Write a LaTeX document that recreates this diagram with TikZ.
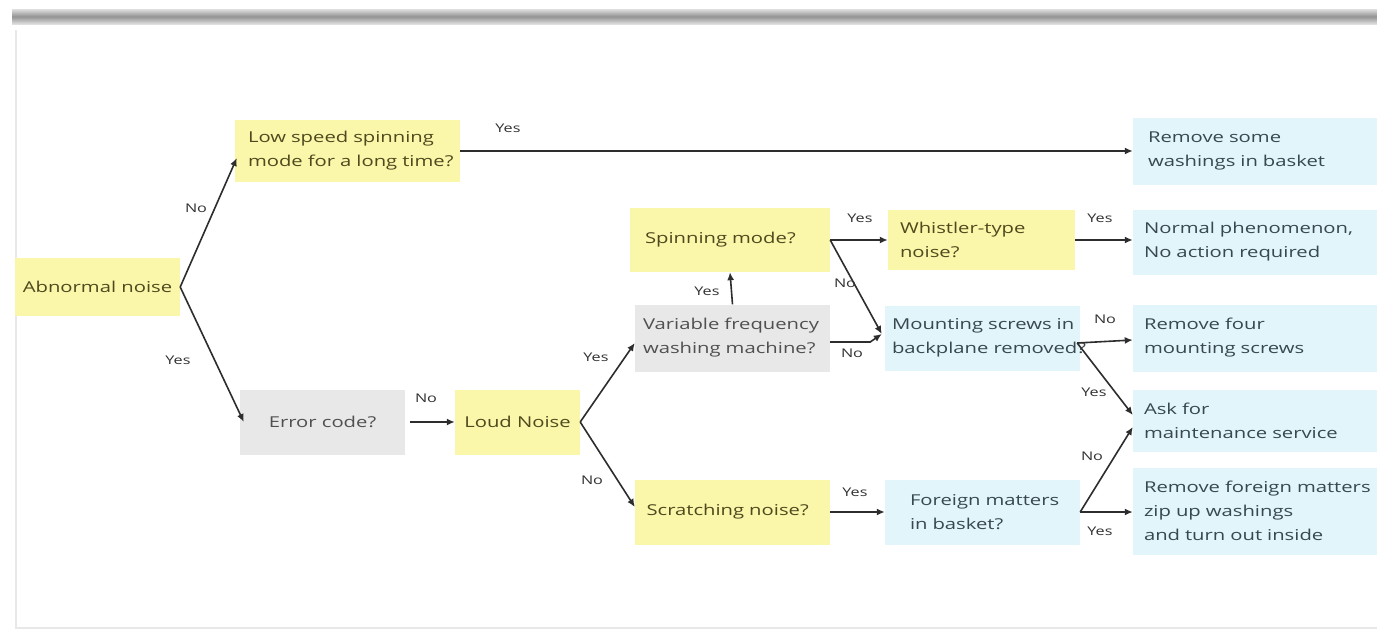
\documentclass[tikz,border=0pt]{standalone}
\usepackage{fontspec}
\setmainfont{Open Sans}[FakeStretch=1.35]
\usetikzlibrary{arrows.meta,calc}
\definecolor{ylw}{RGB}{250,246,170}
\definecolor{blu}{RGB}{226,245,250}
\definecolor{gry}{RGB}{232,232,232}
\definecolor{ytxt}{RGB}{78,74,30}
\definecolor{btxt}{RGB}{55,72,78}
\definecolor{gtxt}{RGB}{80,80,80}
\definecolor{txt}{RGB}{50,50,50}
\definecolor{ln}{RGB}{45,45,45}
\tikzset{
  box/.style={rectangle, inner sep=0pt, font=\fontsize{15}{24}\selectfont},
  ybox/.style={box, fill=ylw, text=ytxt},
  bbox/.style={box, fill=blu, text=btxt},
  gbox/.style={box, fill=gry, text=gtxt},
  arr/.style={draw=ln, line width=1.6pt, -{Latex[length=8pt,width=7pt]}},
  lbl/.style={font=\fontsize{12}{14}\selectfont, text=txt, inner sep=1pt},
}
\begin{document}
\begin{tikzpicture}[x=1pt,y=-1pt]
\useasboundingbox (0,0) rectangle (1377,635);
\fill[white] (0,0) rectangle (1377,635);
% frame
\draw[gray!18, line width=2pt] (16,30) -- (16,628) -- (1380,628);
\shade[top color=gray!25, bottom color=gray!25, middle color=gray!85] (12,9) rectangle (1377,24);
% nodes
\node[ybox, minimum width=165, minimum height=58] (ab) at (97.5,287) {Abnormal noise};
\node[ybox, minimum width=225, minimum height=62, text width=199, align=left] (low) at (347.5,151) {\mbox{Low speed spinning}\\\mbox{mode for a long time?}};
\node[bbox, minimum width=244, minimum height=67, text width=214, align=left] (rsome) at (1255,151) {\mbox{Remove some}\\\mbox{washings in basket}};
\node[ybox, minimum width=200, minimum height=64, text width=170, align=left] (spin) at (730,240) {\mbox{Spinning mode?}};
\node[ybox, minimum width=187, minimum height=60, text width=163, align=left] (whis) at (981.5,240) {\mbox{Whistler-type}\\\mbox{noise?}};
\node[bbox, minimum width=244, minimum height=65, text width=222, align=left] (normal) at (1255,242) {\mbox{Normal phenomenon,}\\\mbox{No action required}};
\node[gbox, minimum width=195, minimum height=67, text width=179, align=left] (var) at (732.5,338) {\mbox{Variable frequency}\\\mbox{washing machine?}};
\node[bbox, minimum width=195, minimum height=65, text width=181, align=left] (mount) at (982.5,338) {\mbox{Mounting screws in}\\\mbox{backplane removed?}};
\node[bbox, minimum width=244, minimum height=67, text width=222, align=left] (rfour) at (1255,338) {\mbox{Remove four}\\\mbox{mounting screws}};
\node[bbox, minimum width=244, minimum height=62, text width=222, align=left] (ask) at (1255,421) {\mbox{Ask for}\\\mbox{maintenance service}};
\node[gbox, minimum width=165, minimum height=65] (err) at (322.5,422) {Error code?};
\node[ybox, minimum width=125, minimum height=65] (loud) at (517.5,422) {Loud Noise};
\node[ybox, minimum width=195, minimum height=65, text width=172, align=left] (scr) at (732.5,512) {\mbox{Scratching noise?}};
\node[bbox, minimum width=195, minimum height=65, text width=145, align=left] (foreign) at (982.5,512) {\mbox{Foreign matters}\\\mbox{in basket?}};
\node[bbox, minimum width=244, minimum height=87, text width=222, align=left] (rforeign) at (1255,511) {\mbox{Remove foreign matters}\\\mbox{zip up washings}\\\mbox{and turn out inside}};
% connectors
\draw[arr] (ab.east) -- ($(low.west)+(2,7)$);
\node[lbl] (l1) at (196,208) {No};
\draw[arr] (ab.east) -- ($(err.west)+(4,0)$);
\node[lbl] (l2) at (178,360) {Yes};
\draw[arr] (low.east) -- (rsome.west);
\node[lbl] (l3) at (508,128) {Yes};
\draw[arr] ($(err.east)+(5,0)$) -- (loud.west);
\node[lbl] (l4) at (426,398) {No};
\draw[arr] (loud.east) -- ($(var.west)+(0,5)$);
\node[lbl] (l5) at (596,357) {Yes};
\draw[arr] (loud.east) -- ($(scr.west)+(0,-5)$);
\node[lbl] (l6) at (592,480) {No};
\draw[arr] (var.north) -- (spin.south);
\node[lbl] (l7) at (707,291) {Yes};
\draw[arr] (spin.east) -- (whis.west);
\node[lbl] (l8) at (860,218) {Yes};
\draw[arr] (spin.east) -- ($(mount.west)+(-3,-4)$);
\node[lbl] (l9) at (845,283) {No};
\draw[arr] ($(var.east)+(0,4)$) -- ++(40,0) -- ($(mount.west)+(-3,-4)$);
\node[lbl] (l10) at (852,353) {No};
\draw[arr] (whis.east) -- (whis.east -| normal.west);
\node[lbl] (l11) at (1100,218) {Yes};
\draw[arr] ($(mount.east)+(-3,5)$) -- ($(rfour.west)+(0,2)$);
\node[lbl] (l12) at (1105,319) {No};
\draw[arr] ($(mount.east)+(-3,5)$) -- ($(ask.west)+(0,-6)$);
\node[lbl] (l13) at (1094,392) {Yes};
\draw[arr] (foreign.east) -- ($(ask.west)+(0,6)$);
\node[lbl] (l14) at (1092,456) {No};
\draw[arr] (foreign.east) -- (foreign.east -| rforeign.west);
\node[lbl] (l15) at (1100,531) {Yes};
\draw[arr] (scr.east) -- (foreign.west);
\node[lbl] (l16) at (855,492) {Yes};
\end{tikzpicture}
\end{document}
